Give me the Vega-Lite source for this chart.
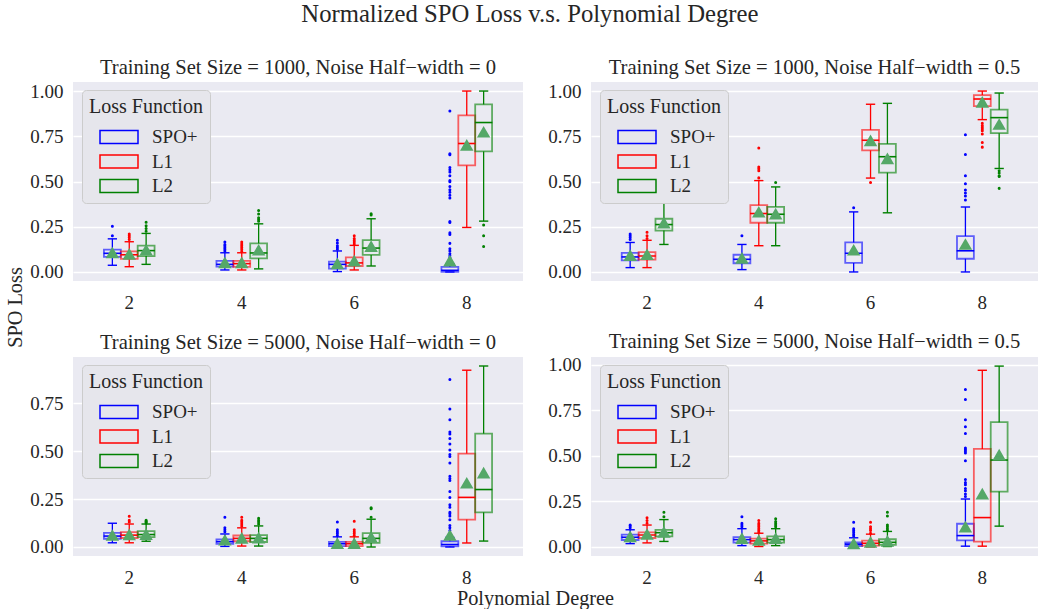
{
"$schema": "https://vega.github.io/schema/vega-lite/v6.json",
"padding": {"left": 5, "top": 1, "right": 0, "bottom": 0},
"title": {"text": "Normalized SPO Loss v.s. Polynomial Degree", "fontSize": 24.7, "font": "Liberation Serif", "fontWeight": "normal", "color": "#262626", "anchor": "middle", "dx": 8, "offset": 32},
"datasets": {
"box": [
{"p":"A","d":2,"l":"SPO+","lo":0.037,"q1":0.083,"md":0.103,"q3":0.123,"hi":0.183,"mn":0.105},
{"p":"A","d":2,"l":"L1","lo":0.029,"q1":0.072,"md":0.095,"q3":0.114,"hi":0.167,"mn":0.097},
{"p":"A","d":2,"l":"L2","lo":0.042,"q1":0.088,"md":0.118,"q3":0.145,"hi":0.213,"mn":0.12},
{"p":"A","d":4,"l":"SPO+","lo":0.011,"q1":0.029,"md":0.042,"q3":0.061,"hi":0.106,"mn":0.05},
{"p":"A","d":4,"l":"L1","lo":0.011,"q1":0.028,"md":0.046,"q3":0.061,"hi":0.106,"mn":0.05},
{"p":"A","d":4,"l":"L2","lo":0.017,"q1":0.075,"md":0.105,"q3":0.158,"hi":0.266,"mn":0.12},
{"p":"A","d":6,"l":"SPO+","lo":0.002,"q1":0.018,"md":0.042,"q3":0.057,"hi":0.116,"mn":0.045},
{"p":"A","d":6,"l":"L1","lo":0.011,"q1":0.033,"md":0.05,"q3":0.081,"hi":0.147,"mn":0.06},
{"p":"A","d":6,"l":"L2","lo":0.033,"q1":0.094,"md":0.132,"q3":0.176,"hi":0.294,"mn":0.14},
{"p":"A","d":8,"l":"SPO+","lo":0.0,"q1":0.0,"md":0.009,"q3":0.028,"hi":0.046,"mn":0.06},
{"p":"A","d":8,"l":"L1","lo":0.246,"q1":0.589,"md":0.71,"q3":0.866,"hi":1.0,"mn":0.70},
{"p":"A","d":8,"l":"L2","lo":0.281,"q1":0.666,"md":0.826,"q3":0.926,"hi":1.0,"mn":0.772},
{"p":"B","d":2,"l":"SPO+","lo":0.024,"q1":0.064,"md":0.083,"q3":0.105,"hi":0.163,"mn":0.09},
{"p":"B","d":2,"l":"L1","lo":0.024,"q1":0.068,"md":0.088,"q3":0.11,"hi":0.175,"mn":0.095},
{"p":"B","d":2,"l":"L2","lo":0.152,"q1":0.229,"md":0.262,"q3":0.294,"hi":0.39,"mn":0.27},
{"p":"B","d":4,"l":"SPO+","lo":0.013,"q1":0.048,"md":0.07,"q3":0.095,"hi":0.152,"mn":0.075},
{"p":"B","d":4,"l":"L1","lo":0.145,"q1":0.272,"md":0.323,"q3":0.369,"hi":0.505,"mn":0.33},
{"p":"B","d":4,"l":"L2","lo":0.145,"q1":0.272,"md":0.319,"q3":0.36,"hi":0.47,"mn":0.32},
{"p":"B","d":6,"l":"SPO+","lo":0.0,"q1":0.05,"md":0.103,"q3":0.163,"hi":0.332,"mn":0.12},
{"p":"B","d":6,"l":"L1","lo":0.519,"q1":0.672,"md":0.728,"q3":0.785,"hi":0.927,"mn":0.725},
{"p":"B","d":6,"l":"L2","lo":0.327,"q1":0.549,"md":0.637,"q3":0.708,"hi":0.932,"mn":0.625},
{"p":"B","d":8,"l":"SPO+","lo":0.0,"q1":0.073,"md":0.117,"q3":0.198,"hi":0.359,"mn":0.152},
{"p":"B","d":8,"l":"L1","lo":0.842,"q1":0.917,"md":0.956,"q3":0.978,"hi":1.0,"mn":0.937},
{"p":"B","d":8,"l":"L2","lo":0.572,"q1":0.767,"md":0.853,"q3":0.897,"hi":0.989,"mn":0.815},
{"p":"C","d":2,"l":"SPO+","lo":0.022,"q1":0.043,"md":0.057,"q3":0.074,"hi":0.124,"mn":0.06},
{"p":"C","d":2,"l":"L1","lo":0.022,"q1":0.047,"md":0.062,"q3":0.078,"hi":0.12,"mn":0.063},
{"p":"C","d":2,"l":"L2","lo":0.03,"q1":0.052,"md":0.065,"q3":0.083,"hi":0.12,"mn":0.065},
{"p":"C","d":4,"l":"SPO+","lo":0.003,"q1":0.017,"md":0.028,"q3":0.04,"hi":0.068,"mn":0.035},
{"p":"C","d":4,"l":"L1","lo":0.005,"q1":0.03,"md":0.045,"q3":0.06,"hi":0.1,"mn":0.045},
{"p":"C","d":4,"l":"L2","lo":0.005,"q1":0.026,"md":0.045,"q3":0.062,"hi":0.11,"mn":0.046},
{"p":"C","d":6,"l":"SPO+","lo":0.0,"q1":0.005,"md":0.017,"q3":0.027,"hi":0.053,"mn":0.018},
{"p":"C","d":6,"l":"L1","lo":0.0,"q1":0.005,"md":0.017,"q3":0.027,"hi":0.053,"mn":0.018},
{"p":"C","d":6,"l":"L2","lo":0.0,"q1":0.022,"md":0.045,"q3":0.072,"hi":0.145,"mn":0.05},
{"p":"C","d":8,"l":"SPO+","lo":0.0,"q1":0.003,"md":0.013,"q3":0.03,"hi":0.05,"mn":0.06},
{"p":"C","d":8,"l":"L1","lo":0.021,"q1":0.143,"md":0.259,"q3":0.488,"hi":0.923,"mn":0.333},
{"p":"C","d":8,"l":"L2","lo":0.031,"q1":0.181,"md":0.30,"q3":0.592,"hi":0.945,"mn":0.386},
{"p":"D","d":2,"l":"SPO+","lo":0.018,"q1":0.038,"md":0.053,"q3":0.067,"hi":0.094,"mn":0.055},
{"p":"D","d":2,"l":"L1","lo":0.022,"q1":0.049,"md":0.065,"q3":0.08,"hi":0.12,"mn":0.068},
{"p":"D","d":2,"l":"L2","lo":0.03,"q1":0.058,"md":0.078,"q3":0.094,"hi":0.15,"mn":0.08},
{"p":"D","d":4,"l":"SPO+","lo":0.007,"q1":0.024,"md":0.04,"q3":0.054,"hi":0.1,"mn":0.045},
{"p":"D","d":4,"l":"L1","lo":0.002,"q1":0.018,"md":0.033,"q3":0.045,"hi":0.075,"mn":0.035},
{"p":"D","d":4,"l":"L2","lo":0.007,"q1":0.024,"md":0.04,"q3":0.058,"hi":0.1,"mn":0.045},
{"p":"D","d":6,"l":"SPO+","lo":0.0,"q1":0.005,"md":0.015,"q3":0.025,"hi":0.05,"mn":0.017},
{"p":"D","d":6,"l":"L1","lo":0.0,"q1":0.007,"md":0.02,"q3":0.034,"hi":0.07,"mn":0.025},
{"p":"D","d":6,"l":"L2","lo":0.002,"q1":0.011,"md":0.025,"q3":0.042,"hi":0.085,"mn":0.03},
{"p":"D","d":8,"l":"SPO+","lo":0.004,"q1":0.036,"md":0.062,"q3":0.127,"hi":0.263,"mn":0.109},
{"p":"D","d":8,"l":"L1","lo":0.004,"q1":0.029,"md":0.161,"q3":0.538,"hi":0.97,"mn":0.29},
{"p":"D","d":8,"l":"L2","lo":0.114,"q1":0.304,"md":0.477,"q3":0.685,"hi":0.993,"mn":0.504}
],
"fl": [
{"p":"A","d":2,"l":"SPO+","v":0.20},{"p":"A","d":2,"l":"SPO+","v":0.253},
{"p":"A","d":2,"l":"L1","v":0.18},{"p":"A","d":2,"l":"L1","v":0.19},{"p":"A","d":2,"l":"L1","v":0.2},{"p":"A","d":2,"l":"L1","v":0.21},
{"p":"A","d":2,"l":"L2","v":0.225},{"p":"A","d":2,"l":"L2","v":0.24},{"p":"A","d":2,"l":"L2","v":0.255},{"p":"A","d":2,"l":"L2","v":0.275},
{"p":"A","d":4,"l":"SPO+","v":0.116},{"p":"A","d":4,"l":"SPO+","v":0.125},{"p":"A","d":4,"l":"SPO+","v":0.134},{"p":"A","d":4,"l":"SPO+","v":0.143},{"p":"A","d":4,"l":"SPO+","v":0.152},{"p":"A","d":4,"l":"SPO+","v":0.165},
{"p":"A","d":4,"l":"L1","v":0.115},{"p":"A","d":4,"l":"L1","v":0.125},{"p":"A","d":4,"l":"L1","v":0.135},{"p":"A","d":4,"l":"L1","v":0.145},{"p":"A","d":4,"l":"L1","v":0.155},{"p":"A","d":4,"l":"L1","v":0.165},
{"p":"A","d":4,"l":"L2","v":0.28},{"p":"A","d":4,"l":"L2","v":0.29},{"p":"A","d":4,"l":"L2","v":0.30},{"p":"A","d":4,"l":"L2","v":0.32},{"p":"A","d":4,"l":"L2","v":0.34},
{"p":"A","d":6,"l":"SPO+","v":0.125},{"p":"A","d":6,"l":"SPO+","v":0.135},{"p":"A","d":6,"l":"SPO+","v":0.145},{"p":"A","d":6,"l":"SPO+","v":0.16},{"p":"A","d":6,"l":"SPO+","v":0.175},
{"p":"A","d":6,"l":"L1","v":0.155},{"p":"A","d":6,"l":"L1","v":0.165},{"p":"A","d":6,"l":"L1","v":0.175},{"p":"A","d":6,"l":"L1","v":0.185},{"p":"A","d":6,"l":"L1","v":0.2},
{"p":"A","d":6,"l":"L2","v":0.315},{"p":"A","d":6,"l":"L2","v":0.322},
{"p":"A","d":8,"l":"SPO+","v":0.064},{"p":"A","d":8,"l":"SPO+","v":0.079},{"p":"A","d":8,"l":"SPO+","v":0.09},{"p":"A","d":8,"l":"SPO+","v":0.101},{"p":"A","d":8,"l":"SPO+","v":0.116},{"p":"A","d":8,"l":"SPO+","v":0.128},{"p":"A","d":8,"l":"SPO+","v":0.158},{"p":"A","d":8,"l":"SPO+","v":0.207},{"p":"A","d":8,"l":"SPO+","v":0.216},{"p":"A","d":8,"l":"SPO+","v":0.273},{"p":"A","d":8,"l":"SPO+","v":0.279},{"p":"A","d":8,"l":"SPO+","v":0.409},{"p":"A","d":8,"l":"SPO+","v":0.424},{"p":"A","d":8,"l":"SPO+","v":0.44},{"p":"A","d":8,"l":"SPO+","v":0.455},{"p":"A","d":8,"l":"SPO+","v":0.472},{"p":"A","d":8,"l":"SPO+","v":0.499},{"p":"A","d":8,"l":"SPO+","v":0.505},{"p":"A","d":8,"l":"SPO+","v":0.532},{"p":"A","d":8,"l":"SPO+","v":0.552},{"p":"A","d":8,"l":"SPO+","v":0.565},{"p":"A","d":8,"l":"SPO+","v":0.578},{"p":"A","d":8,"l":"SPO+","v":0.648},{"p":"A","d":8,"l":"SPO+","v":0.653},{"p":"A","d":8,"l":"SPO+","v":0.89},
{"p":"A","d":8,"l":"L2","v":0.26},{"p":"A","d":8,"l":"L2","v":0.20},{"p":"A","d":8,"l":"L2","v":0.141},
{"p":"B","d":2,"l":"SPO+","v":0.18},{"p":"B","d":2,"l":"SPO+","v":0.19},{"p":"B","d":2,"l":"SPO+","v":0.2},{"p":"B","d":2,"l":"SPO+","v":0.21},
{"p":"B","d":2,"l":"L1","v":0.185},{"p":"B","d":2,"l":"L1","v":0.2},{"p":"B","d":2,"l":"L1","v":0.22},
{"p":"B","d":4,"l":"SPO+","v":0.2},
{"p":"B","d":4,"l":"L1","v":0.52},{"p":"B","d":4,"l":"L1","v":0.56},{"p":"B","d":4,"l":"L1","v":0.57},{"p":"B","d":4,"l":"L1","v":0.58},{"p":"B","d":4,"l":"L1","v":0.685},
{"p":"B","d":4,"l":"L2","v":0.495},
{"p":"B","d":6,"l":"SPO+","v":0.355},
{"p":"B","d":6,"l":"L1","v":0.495},
{"p":"B","d":8,"l":"SPO+","v":0.398},{"p":"B","d":8,"l":"SPO+","v":0.42},{"p":"B","d":8,"l":"SPO+","v":0.437},{"p":"B","d":8,"l":"SPO+","v":0.453},{"p":"B","d":8,"l":"SPO+","v":0.488},{"p":"B","d":8,"l":"SPO+","v":0.532},{"p":"B","d":8,"l":"SPO+","v":0.649},{"p":"B","d":8,"l":"SPO+","v":0.758},
{"p":"B","d":8,"l":"L1","v":0.822},{"p":"B","d":8,"l":"L1","v":0.81},{"p":"B","d":8,"l":"L1","v":0.80},{"p":"B","d":8,"l":"L1","v":0.79},{"p":"B","d":8,"l":"L1","v":0.78},{"p":"B","d":8,"l":"L1","v":0.763},{"p":"B","d":8,"l":"L1","v":0.715},{"p":"B","d":8,"l":"L1","v":0.69},
{"p":"B","d":8,"l":"L2","v":0.56},{"p":"B","d":8,"l":"L2","v":0.547},{"p":"B","d":8,"l":"L2","v":0.532},{"p":"B","d":8,"l":"L2","v":0.528},{"p":"B","d":8,"l":"L2","v":0.462},
{"p":"C","d":2,"l":"L1","v":0.13},{"p":"C","d":2,"l":"L1","v":0.14},{"p":"C","d":2,"l":"L1","v":0.16},
{"p":"C","d":2,"l":"L2","v":0.125},{"p":"C","d":2,"l":"L2","v":0.13},{"p":"C","d":2,"l":"L2","v":0.135},{"p":"C","d":2,"l":"L2","v":0.14},
{"p":"C","d":4,"l":"SPO+","v":0.08},{"p":"C","d":4,"l":"SPO+","v":0.09},{"p":"C","d":4,"l":"SPO+","v":0.1},{"p":"C","d":4,"l":"SPO+","v":0.155},
{"p":"C","d":4,"l":"L1","v":0.11},{"p":"C","d":4,"l":"L1","v":0.12},{"p":"C","d":4,"l":"L1","v":0.13},{"p":"C","d":4,"l":"L1","v":0.14},{"p":"C","d":4,"l":"L1","v":0.155},
{"p":"C","d":4,"l":"L2","v":0.12},{"p":"C","d":4,"l":"L2","v":0.13},{"p":"C","d":4,"l":"L2","v":0.14},{"p":"C","d":4,"l":"L2","v":0.15},
{"p":"C","d":6,"l":"SPO+","v":0.06},{"p":"C","d":6,"l":"SPO+","v":0.07},{"p":"C","d":6,"l":"SPO+","v":0.08},{"p":"C","d":6,"l":"SPO+","v":0.09},{"p":"C","d":6,"l":"SPO+","v":0.13},
{"p":"C","d":6,"l":"L1","v":0.06},{"p":"C","d":6,"l":"L1","v":0.07},{"p":"C","d":6,"l":"L1","v":0.08},{"p":"C","d":6,"l":"L1","v":0.09},{"p":"C","d":6,"l":"L1","v":0.135},
{"p":"C","d":6,"l":"L2","v":0.155},{"p":"C","d":6,"l":"L2","v":0.2},{"p":"C","d":6,"l":"L2","v":0.205},
{"p":"C","d":8,"l":"SPO+","v":0.086},{"p":"C","d":8,"l":"SPO+","v":0.1},{"p":"C","d":8,"l":"SPO+","v":0.112},{"p":"C","d":8,"l":"SPO+","v":0.142},{"p":"C","d":8,"l":"SPO+","v":0.162},{"p":"C","d":8,"l":"SPO+","v":0.173},{"p":"C","d":8,"l":"SPO+","v":0.181},{"p":"C","d":8,"l":"SPO+","v":0.207},{"p":"C","d":8,"l":"SPO+","v":0.221},{"p":"C","d":8,"l":"SPO+","v":0.259},{"p":"C","d":8,"l":"SPO+","v":0.29},{"p":"C","d":8,"l":"SPO+","v":0.347},{"p":"C","d":8,"l":"SPO+","v":0.357},{"p":"C","d":8,"l":"SPO+","v":0.369},{"p":"C","d":8,"l":"SPO+","v":0.438},{"p":"C","d":8,"l":"SPO+","v":0.473},{"p":"C","d":8,"l":"SPO+","v":0.483},{"p":"C","d":8,"l":"SPO+","v":0.507},{"p":"C","d":8,"l":"SPO+","v":0.538},{"p":"C","d":8,"l":"SPO+","v":0.566},{"p":"C","d":8,"l":"SPO+","v":0.59},{"p":"C","d":8,"l":"SPO+","v":0.60},{"p":"C","d":8,"l":"SPO+","v":0.664},{"p":"C","d":8,"l":"SPO+","v":0.721},{"p":"C","d":8,"l":"SPO+","v":0.874},
{"p":"D","d":2,"l":"SPO+","v":0.105},{"p":"D","d":2,"l":"SPO+","v":0.115},{"p":"D","d":2,"l":"SPO+","v":0.12},
{"p":"D","d":2,"l":"L1","v":0.13},{"p":"D","d":2,"l":"L1","v":0.145},{"p":"D","d":2,"l":"L1","v":0.16},
{"p":"D","d":2,"l":"L2","v":0.165},{"p":"D","d":2,"l":"L2","v":0.19},
{"p":"D","d":4,"l":"SPO+","v":0.11},{"p":"D","d":4,"l":"SPO+","v":0.12},{"p":"D","d":4,"l":"SPO+","v":0.13},{"p":"D","d":4,"l":"SPO+","v":0.165},
{"p":"D","d":4,"l":"L1","v":0.08},{"p":"D","d":4,"l":"L1","v":0.09},{"p":"D","d":4,"l":"L1","v":0.1},{"p":"D","d":4,"l":"L1","v":0.11},{"p":"D","d":4,"l":"L1","v":0.12},{"p":"D","d":4,"l":"L1","v":0.13},{"p":"D","d":4,"l":"L1","v":0.145},
{"p":"D","d":4,"l":"L2","v":0.11},{"p":"D","d":4,"l":"L2","v":0.12},{"p":"D","d":4,"l":"L2","v":0.13},{"p":"D","d":4,"l":"L2","v":0.14},{"p":"D","d":4,"l":"L2","v":0.155},
{"p":"D","d":6,"l":"SPO+","v":0.06},{"p":"D","d":6,"l":"SPO+","v":0.07},{"p":"D","d":6,"l":"SPO+","v":0.08},{"p":"D","d":6,"l":"SPO+","v":0.09},{"p":"D","d":6,"l":"SPO+","v":0.1},{"p":"D","d":6,"l":"SPO+","v":0.135},
{"p":"D","d":6,"l":"L1","v":0.075},{"p":"D","d":6,"l":"L1","v":0.09},{"p":"D","d":6,"l":"L1","v":0.1},{"p":"D","d":6,"l":"L1","v":0.11},{"p":"D","d":6,"l":"L1","v":0.135},
{"p":"D","d":6,"l":"L2","v":0.09},{"p":"D","d":6,"l":"L2","v":0.1},{"p":"D","d":6,"l":"L2","v":0.11},{"p":"D","d":6,"l":"L2","v":0.12},{"p":"D","d":6,"l":"L2","v":0.17},{"p":"D","d":6,"l":"L2","v":0.19},
{"p":"D","d":8,"l":"SPO+","v":0.277},{"p":"D","d":8,"l":"SPO+","v":0.29},{"p":"D","d":8,"l":"SPO+","v":0.308},{"p":"D","d":8,"l":"SPO+","v":0.321},{"p":"D","d":8,"l":"SPO+","v":0.341},{"p":"D","d":8,"l":"SPO+","v":0.353},{"p":"D","d":8,"l":"SPO+","v":0.37},{"p":"D","d":8,"l":"SPO+","v":0.473},{"p":"D","d":8,"l":"SPO+","v":0.516},{"p":"D","d":8,"l":"SPO+","v":0.526},{"p":"D","d":8,"l":"SPO+","v":0.535},{"p":"D","d":8,"l":"SPO+","v":0.543},{"p":"D","d":8,"l":"SPO+","v":0.623},{"p":"D","d":8,"l":"SPO+","v":0.66},{"p":"D","d":8,"l":"SPO+","v":0.698},{"p":"D","d":8,"l":"SPO+","v":0.81},{"p":"D","d":8,"l":"SPO+","v":0.864}
]
},
"concat": [
{
"width": 450, "height": 199,
"title": "Training Set Size = 1000, Noise Half−width = 0",
"encoding": {
"x": {"field": "d", "type": "ordinal", "scale": {"domain": [2,4,6,8], "paddingInner": 0.55, "paddingOuter": 0.275}, "axis": {"title": null, "labelAngle": 0}},
"xOffset": {"field": "l", "type": "nominal", "scale": {"domain": ["SPO+","L1","L2"], "paddingInner": 0, "paddingOuter": 0}},
"stroke": {"field": "l", "type": "nominal", "scale": {"domain": ["SPO+","L1","L2"], "range": ["#0000ff","#ff0000","#008000"]}, "legend": {"title": "Loss Function"}}
},
"layer": [
{"data": {"name": "box"}, "transform": [{"filter": "datum.p=='A'"}], "mark": {"type": "bar", "filled": false, "strokeWidth": 1.8, "strokeOpacity": 0.6},
 "encoding": {"y": {"field": "q1", "type": "quantitative", "scale": {"domain": [-0.05, 1.05], "nice": false, "zero": false}, "axis": {"title": "SPO Loss", "titleY": 225, "values": [0,0.25,0.5,0.75,1], "format": ".2f"}}, "y2": {"field": "q3"}}},
{"data": {"name": "box"}, "transform": [{"filter": "datum.p=='A'"}], "mark": {"type": "rule", "strokeWidth": 1.3},
 "encoding": {"y": {"field": "lo", "type": "quantitative", "scale": {"domain": [-0.05, 1.05], "nice": false, "zero": false}}, "y2": {"field": "q1"}}},
{"data": {"name": "box"}, "transform": [{"filter": "datum.p=='A'"}], "mark": {"type": "rule", "strokeWidth": 1.3},
 "encoding": {"y": {"field": "q3", "type": "quantitative", "scale": {"domain": [-0.05, 1.05], "nice": false, "zero": false}}, "y2": {"field": "hi"}}},
{"data": {"name": "box"}, "transform": [{"filter": "datum.p=='A'"}], "mark": {"type": "tick", "filled": false, "size": 8, "thickness": 0.1, "strokeWidth": 1.3, "opacity": 1},
 "encoding": {"y": {"field": "lo", "type": "quantitative", "scale": {"domain": [-0.05, 1.05], "nice": false, "zero": false}}}},
{"data": {"name": "box"}, "transform": [{"filter": "datum.p=='A'"}], "mark": {"type": "tick", "filled": false, "size": 8, "thickness": 0.1, "strokeWidth": 1.3, "opacity": 1},
 "encoding": {"y": {"field": "hi", "type": "quantitative", "scale": {"domain": [-0.05, 1.05], "nice": false, "zero": false}}}},
{"data": {"name": "box"}, "transform": [{"filter": "datum.p=='A'"}], "mark": {"type": "tick", "filled": false, "size": 16, "thickness": 0.1, "strokeWidth": 1.5, "opacity": 1},
 "encoding": {"y": {"field": "md", "type": "quantitative", "scale": {"domain": [-0.05, 1.05], "nice": false, "zero": false}}}},
{"data": {"name": "fl"}, "transform": [{"filter": "datum.p=='A'"}], "mark": {"type": "point", "filled": false, "size": 2, "strokeWidth": 1.6, "opacity": 1},
 "encoding": {"y": {"field": "v", "type": "quantitative", "scale": {"domain": [-0.05, 1.05], "nice": false, "zero": false}}}},
{"data": {"name": "box"}, "transform": [{"filter": "datum.p=='A'"}], "mark": {"type": "point", "shape": "triangle-up", "filled": true, "fill": "#55a868", "size": 100, "opacity": 1},
 "encoding": {"y": {"field": "mn", "type": "quantitative", "scale": {"domain": [-0.05, 1.05], "nice": false, "zero": false}}, "stroke": {"value": "#55a868"}}}
]
},
{
"width": 447, "height": 199,
"title": "Training Set Size = 1000, Noise Half−width = 0.5",
"encoding": {
"x": {"field": "d", "type": "ordinal", "scale": {"domain": [2,4,6,8], "paddingInner": 0.55, "paddingOuter": 0.275}, "axis": {"title": null, "labelAngle": 0}},
"xOffset": {"field": "l", "type": "nominal", "scale": {"domain": ["SPO+","L1","L2"], "paddingInner": 0, "paddingOuter": 0}},
"stroke": {"field": "l", "type": "nominal", "scale": {"domain": ["SPO+","L1","L2"], "range": ["#0000ff","#ff0000","#008000"]}, "legend": {"title": "Loss Function"}}
},
"layer": [
{"data": {"name": "box"}, "transform": [{"filter": "datum.p=='B'"}], "mark": {"type": "bar", "filled": false, "strokeWidth": 1.8, "strokeOpacity": 0.6},
 "encoding": {"y": {"field": "q1", "type": "quantitative", "scale": {"domain": [-0.05, 1.05], "nice": false, "zero": false}, "axis": {"title": null, "values": [0,0.25,0.5,0.75,1], "format": ".2f"}}, "y2": {"field": "q3"}}},
{"data": {"name": "box"}, "transform": [{"filter": "datum.p=='B'"}], "mark": {"type": "rule", "strokeWidth": 1.3},
 "encoding": {"y": {"field": "lo", "type": "quantitative", "scale": {"domain": [-0.05, 1.05], "nice": false, "zero": false}}, "y2": {"field": "q1"}}},
{"data": {"name": "box"}, "transform": [{"filter": "datum.p=='B'"}], "mark": {"type": "rule", "strokeWidth": 1.3},
 "encoding": {"y": {"field": "q3", "type": "quantitative", "scale": {"domain": [-0.05, 1.05], "nice": false, "zero": false}}, "y2": {"field": "hi"}}},
{"data": {"name": "box"}, "transform": [{"filter": "datum.p=='B'"}], "mark": {"type": "tick", "filled": false, "size": 8, "thickness": 0.1, "strokeWidth": 1.3, "opacity": 1},
 "encoding": {"y": {"field": "lo", "type": "quantitative", "scale": {"domain": [-0.05, 1.05], "nice": false, "zero": false}}}},
{"data": {"name": "box"}, "transform": [{"filter": "datum.p=='B'"}], "mark": {"type": "tick", "filled": false, "size": 8, "thickness": 0.1, "strokeWidth": 1.3, "opacity": 1},
 "encoding": {"y": {"field": "hi", "type": "quantitative", "scale": {"domain": [-0.05, 1.05], "nice": false, "zero": false}}}},
{"data": {"name": "box"}, "transform": [{"filter": "datum.p=='B'"}], "mark": {"type": "tick", "filled": false, "size": 16, "thickness": 0.1, "strokeWidth": 1.5, "opacity": 1},
 "encoding": {"y": {"field": "md", "type": "quantitative", "scale": {"domain": [-0.05, 1.05], "nice": false, "zero": false}}}},
{"data": {"name": "fl"}, "transform": [{"filter": "datum.p=='B'"}], "mark": {"type": "point", "filled": false, "size": 2, "strokeWidth": 1.6, "opacity": 1},
 "encoding": {"y": {"field": "v", "type": "quantitative", "scale": {"domain": [-0.05, 1.05], "nice": false, "zero": false}}}},
{"data": {"name": "box"}, "transform": [{"filter": "datum.p=='B'"}], "mark": {"type": "point", "shape": "triangle-up", "filled": true, "fill": "#55a868", "size": 100, "opacity": 1},
 "encoding": {"y": {"field": "mn", "type": "quantitative", "scale": {"domain": [-0.05, 1.05], "nice": false, "zero": false}}, "stroke": {"value": "#55a868"}}}
]
},
{
"width": 450, "height": 199,
"title": "Training Set Size = 5000, Noise Half−width = 0",
"encoding": {
"x": {"field": "d", "type": "ordinal", "scale": {"domain": [2,4,6,8], "paddingInner": 0.55, "paddingOuter": 0.275}, "axis": {"title": "Polynomial Degree", "labelAngle": 0, "titleX": 462}},
"xOffset": {"field": "l", "type": "nominal", "scale": {"domain": ["SPO+","L1","L2"], "paddingInner": 0, "paddingOuter": 0}},
"stroke": {"field": "l", "type": "nominal", "scale": {"domain": ["SPO+","L1","L2"], "range": ["#0000ff","#ff0000","#008000"]}, "legend": {"title": "Loss Function"}}
},
"layer": [
{"data": {"name": "box"}, "transform": [{"filter": "datum.p=='C'"}], "mark": {"type": "bar", "filled": false, "strokeWidth": 1.8, "strokeOpacity": 0.6},
 "encoding": {"y": {"field": "q1", "type": "quantitative", "scale": {"domain": [-0.047, 0.992], "nice": false, "zero": false}, "axis": {"title": null, "values": [0,0.25,0.5,0.75], "format": ".2f"}}, "y2": {"field": "q3"}}},
{"data": {"name": "box"}, "transform": [{"filter": "datum.p=='C'"}], "mark": {"type": "rule", "strokeWidth": 1.3},
 "encoding": {"y": {"field": "lo", "type": "quantitative", "scale": {"domain": [-0.047, 0.992], "nice": false, "zero": false}}, "y2": {"field": "q1"}}},
{"data": {"name": "box"}, "transform": [{"filter": "datum.p=='C'"}], "mark": {"type": "rule", "strokeWidth": 1.3},
 "encoding": {"y": {"field": "q3", "type": "quantitative", "scale": {"domain": [-0.047, 0.992], "nice": false, "zero": false}}, "y2": {"field": "hi"}}},
{"data": {"name": "box"}, "transform": [{"filter": "datum.p=='C'"}], "mark": {"type": "tick", "filled": false, "size": 8, "thickness": 0.1, "strokeWidth": 1.3, "opacity": 1},
 "encoding": {"y": {"field": "lo", "type": "quantitative", "scale": {"domain": [-0.047, 0.992], "nice": false, "zero": false}}}},
{"data": {"name": "box"}, "transform": [{"filter": "datum.p=='C'"}], "mark": {"type": "tick", "filled": false, "size": 8, "thickness": 0.1, "strokeWidth": 1.3, "opacity": 1},
 "encoding": {"y": {"field": "hi", "type": "quantitative", "scale": {"domain": [-0.047, 0.992], "nice": false, "zero": false}}}},
{"data": {"name": "box"}, "transform": [{"filter": "datum.p=='C'"}], "mark": {"type": "tick", "filled": false, "size": 16, "thickness": 0.1, "strokeWidth": 1.5, "opacity": 1},
 "encoding": {"y": {"field": "md", "type": "quantitative", "scale": {"domain": [-0.047, 0.992], "nice": false, "zero": false}}}},
{"data": {"name": "fl"}, "transform": [{"filter": "datum.p=='C'"}], "mark": {"type": "point", "filled": false, "size": 2, "strokeWidth": 1.6, "opacity": 1},
 "encoding": {"y": {"field": "v", "type": "quantitative", "scale": {"domain": [-0.047, 0.992], "nice": false, "zero": false}}}},
{"data": {"name": "box"}, "transform": [{"filter": "datum.p=='C'"}], "mark": {"type": "point", "shape": "triangle-up", "filled": true, "fill": "#55a868", "size": 100, "opacity": 1},
 "encoding": {"y": {"field": "mn", "type": "quantitative", "scale": {"domain": [-0.047, 0.992], "nice": false, "zero": false}}, "stroke": {"value": "#55a868"}}}
]
},
{
"width": 447, "height": 199,
"title": "Training Set Size = 5000, Noise Half−width = 0.5",
"encoding": {
"x": {"field": "d", "type": "ordinal", "scale": {"domain": [2,4,6,8], "paddingInner": 0.55, "paddingOuter": 0.275}, "axis": {"title": null, "labelAngle": 0}},
"xOffset": {"field": "l", "type": "nominal", "scale": {"domain": ["SPO+","L1","L2"], "paddingInner": 0, "paddingOuter": 0}},
"stroke": {"field": "l", "type": "nominal", "scale": {"domain": ["SPO+","L1","L2"], "range": ["#0000ff","#ff0000","#008000"]}, "legend": {"title": "Loss Function"}}
},
"layer": [
{"data": {"name": "box"}, "transform": [{"filter": "datum.p=='D'"}], "mark": {"type": "bar", "filled": false, "strokeWidth": 1.8, "strokeOpacity": 0.6},
 "encoding": {"y": {"field": "q1", "type": "quantitative", "scale": {"domain": [-0.05, 1.043], "nice": false, "zero": false}, "axis": {"title": null, "values": [0,0.25,0.5,0.75,1], "format": ".2f"}}, "y2": {"field": "q3"}}},
{"data": {"name": "box"}, "transform": [{"filter": "datum.p=='D'"}], "mark": {"type": "rule", "strokeWidth": 1.3},
 "encoding": {"y": {"field": "lo", "type": "quantitative", "scale": {"domain": [-0.05, 1.043], "nice": false, "zero": false}}, "y2": {"field": "q1"}}},
{"data": {"name": "box"}, "transform": [{"filter": "datum.p=='D'"}], "mark": {"type": "rule", "strokeWidth": 1.3},
 "encoding": {"y": {"field": "q3", "type": "quantitative", "scale": {"domain": [-0.05, 1.043], "nice": false, "zero": false}}, "y2": {"field": "hi"}}},
{"data": {"name": "box"}, "transform": [{"filter": "datum.p=='D'"}], "mark": {"type": "tick", "filled": false, "size": 8, "thickness": 0.1, "strokeWidth": 1.3, "opacity": 1},
 "encoding": {"y": {"field": "lo", "type": "quantitative", "scale": {"domain": [-0.05, 1.043], "nice": false, "zero": false}}}},
{"data": {"name": "box"}, "transform": [{"filter": "datum.p=='D'"}], "mark": {"type": "tick", "filled": false, "size": 8, "thickness": 0.1, "strokeWidth": 1.3, "opacity": 1},
 "encoding": {"y": {"field": "hi", "type": "quantitative", "scale": {"domain": [-0.05, 1.043], "nice": false, "zero": false}}}},
{"data": {"name": "box"}, "transform": [{"filter": "datum.p=='D'"}], "mark": {"type": "tick", "filled": false, "size": 16, "thickness": 0.1, "strokeWidth": 1.5, "opacity": 1},
 "encoding": {"y": {"field": "md", "type": "quantitative", "scale": {"domain": [-0.05, 1.043], "nice": false, "zero": false}}}},
{"data": {"name": "fl"}, "transform": [{"filter": "datum.p=='D'"}], "mark": {"type": "point", "filled": false, "size": 2, "strokeWidth": 1.6, "opacity": 1},
 "encoding": {"y": {"field": "v", "type": "quantitative", "scale": {"domain": [-0.05, 1.043], "nice": false, "zero": false}}}},
{"data": {"name": "box"}, "transform": [{"filter": "datum.p=='D'"}], "mark": {"type": "point", "shape": "triangle-up", "filled": true, "fill": "#55a868", "size": 100, "opacity": 1},
 "encoding": {"y": {"field": "mn", "type": "quantitative", "scale": {"domain": [-0.05, 1.043], "nice": false, "zero": false}}, "stroke": {"value": "#55a868"}}}
]
}
],
"columns": 2,
"spacing": {"row": 76, "column": 68},
"bounds": "flush",
"resolve": {"scale": {"y": "independent", "x": "independent", "stroke": "independent"}, "legend": {"stroke": "independent"}},
"config": {
"font": "Liberation Serif",
"view": {"fill": "#eaeaf2", "stroke": null},
"axis": {"domain": false, "ticks": false, "grid": true, "gridColor": "#ffffff", "gridWidth": 1.5, "labelFont": "Liberation Serif", "labelFontSize": 19, "labelColor": "#262626", "labelPadding": 10, "titleFont": "Liberation Serif", "titleFontSize": 20.3, "titleFontWeight": "normal", "titleColor": "#262626", "titlePadding": 4},
"axisX": {"grid": false, "labelPadding": 12, "titlePadding": 1},
"title": {"font": "Liberation Serif", "fontSize": 20.6, "fontWeight": "normal", "color": "#262626", "offset": 3},
"legend": {"orient": "none", "legendX": 9, "legendY": 8, "symbolType": "M-2,-0.68H2V0.68H-2Z", "symbolSize": 361, "symbolStrokeWidth": 1.5, "symbolOffset": 19.5, "labelOffset": 22.5, "fillColor": "#e6e6ec", "strokeColor": "#cccccc", "cornerRadius": 4, "padding": 7, "titleFont": "Liberation Serif", "titleFontSize": 20, "titleFontWeight": "normal", "titleColor": "#262626", "titlePadding": 9.5, "labelFont": "Liberation Serif", "labelFontSize": 19, "labelColor": "#262626", "rowPadding": 3.5}
}
}
